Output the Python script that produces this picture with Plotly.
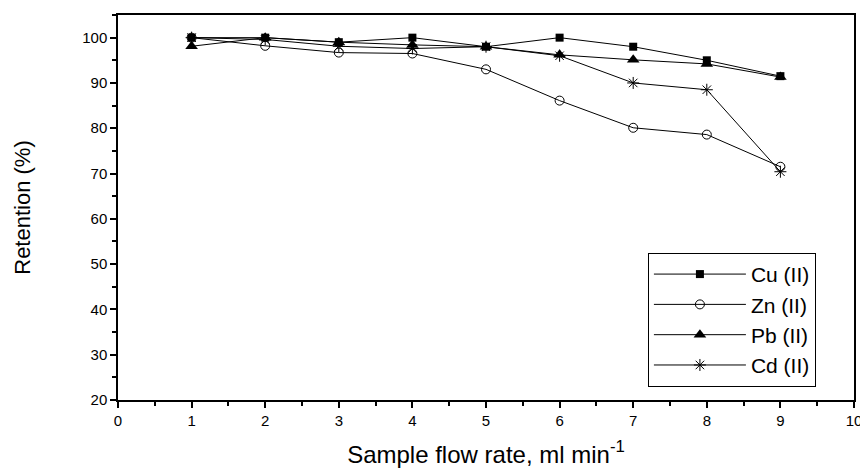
import plotly.graph_objects as go

flow = [1, 2, 3, 4, 5, 6, 7, 8, 9]
cu = [100, 100, 99, 100, 98, 100, 98, 95, 91.5]
zn = [100, 98.2, 96.7, 96.5, 93.0, 86.1, 80.1, 78.6, 71.5]
pb = [98.1, 100, 99, 98.4, 98, 96.2, 95.1, 94.2, 91.3]
cd = [100, 99.6, 98.1, 97.6, 98, 96, 90, 88.5, 70.4]

x_ticks = list(range(0, 11))
y_ticks = list(range(20, 101, 10))

series = [
    ("Cu (II)", cu, dict(symbol="square", size=8, color="black")),
    ("Zn (II)", zn, dict(symbol="circle-open", size=9, color="black", line=dict(width=1, color="black"))),
    ("Pb (II)", pb, dict(symbol="triangle-up", size=11, color="black")),
    ("Cd (II)", cd, dict(symbol="asterisk-open", size=10, color="black", line=dict(width=1, color="black"))),
]

fig = go.Figure()
for name, vals, mk in series:
    fig.add_trace(go.Scatter(x=flow, y=vals, mode="lines+markers", name=name,
                             line=dict(color="black", width=1), marker=mk))

font = "Liberation Sans, Arial, sans-serif"
fig.update_layout(
    width=860, height=462,
    margin=dict(l=110, r=14, t=7, b=70),
    plot_bgcolor="white", paper_bgcolor="white",
    font=dict(family=font, color="black", size=15),
    showlegend=True,
    legend=dict(x=0.72, y=0.382, xanchor="left", yanchor="top",
                bordercolor="black", borderwidth=1, bgcolor="white",
                font=dict(size=21, family=font), itemwidth=92,
                tracegroupgap=0),
)
fig.update_xaxes(range=[0, 10], tickvals=x_ticks, ticks="outside", ticklen=6,
                 tickwidth=1.5, tickcolor="black", showline=True, linecolor="black",
                 linewidth=1.5, mirror=True, showgrid=False, zeroline=False,
                 automargin=False,
                 minor=dict(dtick=0.5, ticks="outside", ticklen=4, tickwidth=1.5, tickcolor="black"),
                 tickfont=dict(size=15),
                 title=dict(text="Sample flow rate, ml min<sup>-1</sup>", font=dict(size=24), standoff=18))
fig.update_yaxes(range=[20, 105], tickvals=y_ticks, ticks="outside", ticklen=6,
                 tickwidth=1.5, tickcolor="black", showline=True, linecolor="black",
                 linewidth=1.5, mirror=True, showgrid=False, zeroline=False,
                 automargin=False,
                 minor=dict(dtick=5, ticks="outside", ticklen=4, tickwidth=1.5, tickcolor="black"),
                 tickfont=dict(size=15),
                 title=dict(text="Retention (%)", font=dict(size=22), standoff=46))

fig.write_html("out.html")
